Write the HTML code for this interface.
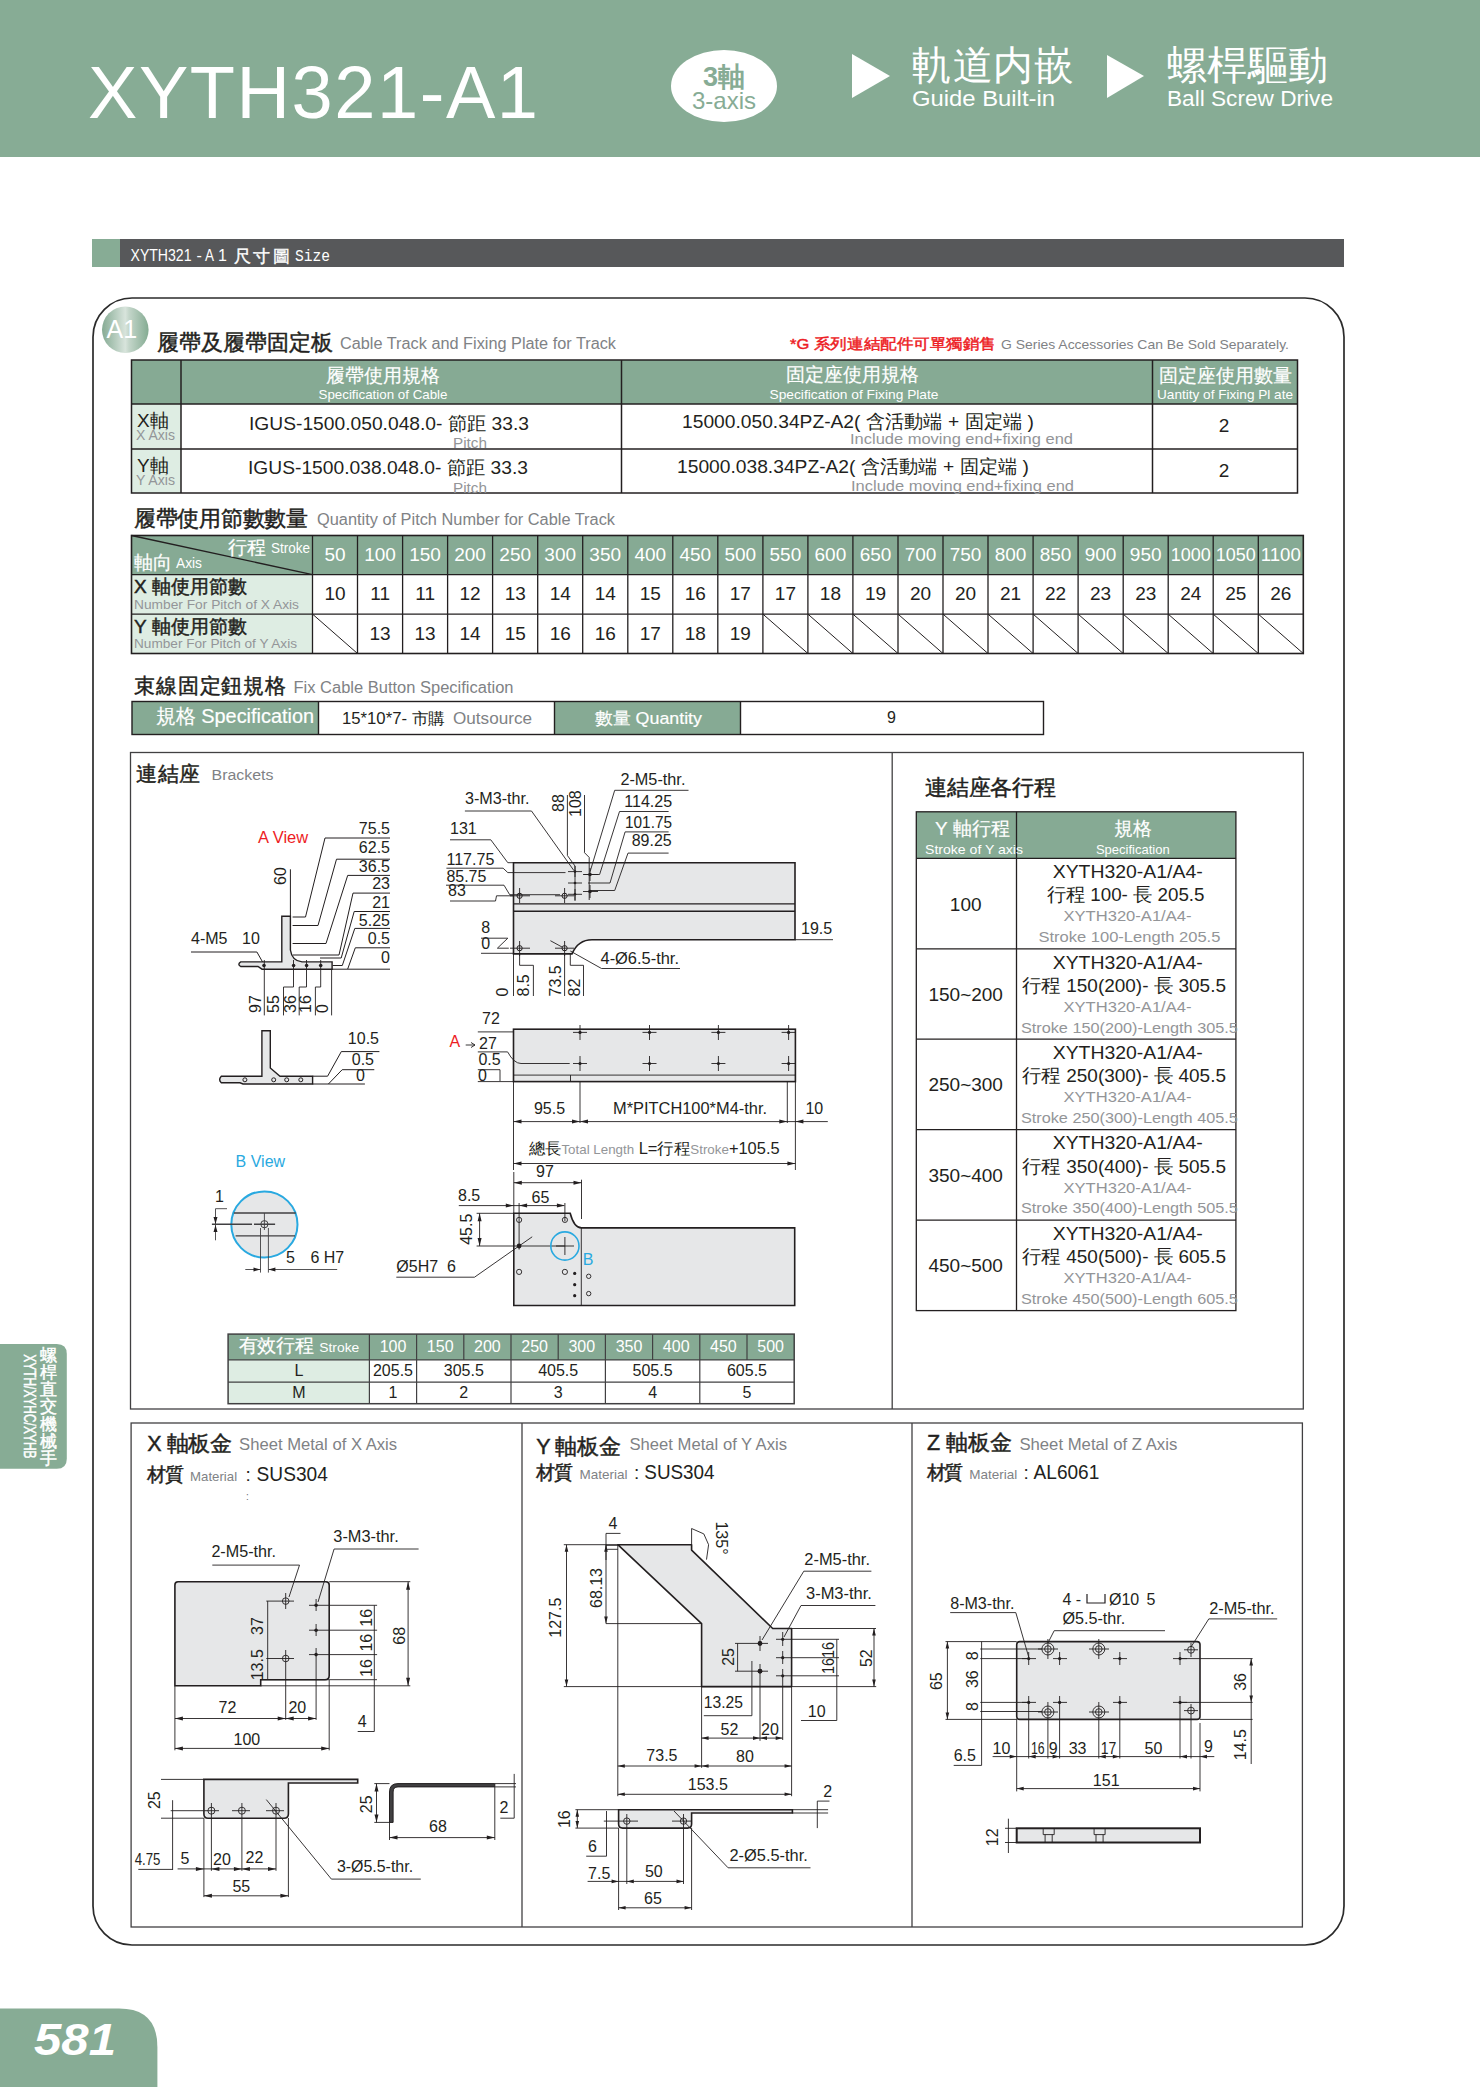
<!DOCTYPE html>
<html><head><meta charset="utf-8">
<style>
html,body{margin:0;padding:0;background:#fff;}
body{width:1480px;height:2087px;position:relative;overflow:hidden;font-family:"Liberation Sans",sans-serif;}
svg{position:absolute;left:0;top:0;}
text{font-family:"Liberation Sans",sans-serif;}
</style></head><body>
<svg width="1480" height="2087" viewBox="0 0 1480 2087">
<defs>
<linearGradient id="a1g" x1="0" y1="0" x2="1" y2="0">
<stop offset="0" stop-color="#86ab94"/><stop offset="0.5" stop-color="#d8e4dc"/><stop offset="0.58" stop-color="#c4d6ca"/><stop offset="1" stop-color="#84ab92"/>
</linearGradient>
</defs>
<!-- header -->
<rect x="0" y="0" width="1480" height="157" fill="#87ac95"/>
<text x="88" y="118" font-size="74" fill="#fff" textLength="450" lengthAdjust="spacing">XYTH321-A1</text>
<ellipse cx="724" cy="86" rx="53" ry="36" fill="#fff"/>
<text x="724" y="86" font-size="27" font-weight="bold" fill="#87ac95" text-anchor="middle">3軸</text>
<text x="724" y="109" font-size="24" fill="#87ac95" text-anchor="middle">3-axis</text>
<polygon points="852,54 890,76 852,98" fill="#fff"/>
<text x="912" y="78.5" font-size="40" fill="#fff" textLength="162">軌道内嵌</text>
<text x="912" y="106" font-size="22" fill="#fff" textLength="143" lengthAdjust="spacingAndGlyphs">Guide Built-in</text>
<polygon points="1107,55 1144,76 1107,98" fill="#fff"/>
<text x="1167" y="78.5" font-size="40" fill="#fff" textLength="161">螺桿驅動</text>
<text x="1167" y="106" font-size="22" fill="#fff" textLength="166" lengthAdjust="spacingAndGlyphs">Ball Screw Drive</text>
<!-- section bar -->
<rect x="92" y="239" width="28" height="28" fill="#87ac95"/>
<rect x="120" y="239" width="1224" height="28" fill="#57585a"/>
<g fill="#fff" font-size="16" style="font-family:'Liberation Mono',monospace"><text x="130.5" y="261" textLength="61" lengthAdjust="spacingAndGlyphs">XYTH321</text><text x="196.5" y="261">-</text><text x="205" y="261" textLength="9" lengthAdjust="spacingAndGlyphs">A</text><text x="218" y="261">1</text></g><text x="233.5" y="262" font-size="17" fill="#fff" stroke="#fff" stroke-width="0.4" textLength="56">尺寸圖</text><text x="295" y="261" font-size="16" fill="#fff" style="font-family:'Liberation Mono',monospace" textLength="35" lengthAdjust="spacingAndGlyphs">Size</text>
<!-- frame -->
<rect x="93" y="298" width="1251" height="1647" rx="39" ry="39" fill="none" stroke="#2b2b2b" stroke-width="1.7"/>
<circle cx="125.3" cy="329.8" r="23.3" fill="url(#a1g)"/>
<text x="121.9" y="337.7" font-size="25" fill="#fff" text-anchor="middle">A1</text>
<!-- table1 -->
<text x="157" y="350" font-size="22" fill="#231f20" textLength="176" stroke="#231f20" stroke-width="0.45">履帶及履帶固定板</text>
<text x="340" y="349" font-size="16" fill="#808285" textLength="276" lengthAdjust="spacingAndGlyphs">Cable Track and Fixing Plate for Track</text>
<text x="790" y="349" font-size="15" fill="#ed1c24" stroke="#ed1c24" stroke-width="0.45" textLength="206" lengthAdjust="spacingAndGlyphs">*G 系列連結配件可單獨銷售</text>
<text x="1001" y="349" font-size="13.5" fill="#808285" textLength="288" lengthAdjust="spacingAndGlyphs">G Series Accessories Can Be Sold Separately.</text>
<rect x="131" y="360" width="1167" height="44" fill="#86aa94"/>
<rect x="131" y="404" width="50" height="89" fill="#deede3"/>
<g stroke="#231f20" stroke-width="1.5" fill="none">
<rect x="131.5" y="360" width="1166" height="133"/>
<line x1="131" y1="404" x2="1298" y2="404"/>
<line x1="131" y1="449" x2="1298" y2="449"/>
<line x1="181" y1="360" x2="181" y2="493"/>
<line x1="621.5" y1="360" x2="621.5" y2="493"/>
<line x1="1152.5" y1="360" x2="1152.5" y2="493"/>
</g>
<text x="383" y="382" font-size="19" fill="#fff" text-anchor="middle" stroke="#fff" stroke-width="0.2">履帶使用規格</text>
<text x="383" y="399" font-size="13.5" fill="#fff" text-anchor="middle" textLength="129" lengthAdjust="spacingAndGlyphs">Specification of Cable</text>
<text x="852" y="381" font-size="19" fill="#fff" text-anchor="middle" stroke="#fff" stroke-width="0.2">固定座使用規格</text>
<text x="854" y="399" font-size="13.5" fill="#fff" text-anchor="middle" textLength="169" lengthAdjust="spacingAndGlyphs">Specification of Fixing Plate</text>
<text x="1225" y="382" font-size="19" fill="#fff" text-anchor="middle" stroke="#fff" stroke-width="0.2">固定座使用數量</text>
<text x="1225" y="399" font-size="13.5" fill="#fff" text-anchor="middle" textLength="136" lengthAdjust="spacingAndGlyphs">Uantity of Fixing Pl ate</text>
<text x="137" y="427" font-size="19" fill="#231f20">X軸</text>
<text x="136" y="440" font-size="14.5" fill="#939598" textLength="39" lengthAdjust="spacingAndGlyphs">X Axis</text>
<text x="137" y="472" font-size="19" fill="#231f20">Y軸</text>
<text x="136" y="485" font-size="14.5" fill="#939598" textLength="39" lengthAdjust="spacingAndGlyphs">Y Axis</text>
<text x="249" y="430" font-size="19" fill="#231f20" textLength="280" lengthAdjust="spacingAndGlyphs">IGUS-1500.050.048.0- 節距 33.3</text>
<text x="453" y="448" font-size="15.5" fill="#939598" textLength="34" lengthAdjust="spacingAndGlyphs">Pitch</text>
<text x="248" y="473.5" font-size="19" fill="#231f20" textLength="280" lengthAdjust="spacingAndGlyphs">IGUS-1500.038.048.0- 節距 33.3</text>
<text x="453" y="493" font-size="15.5" fill="#939598" textLength="34" lengthAdjust="spacingAndGlyphs">Pitch</text>
<text x="682" y="428" font-size="19" fill="#231f20" textLength="352" lengthAdjust="spacingAndGlyphs">15000.050.34PZ-A2( 含活動端 + 固定端 )</text>
<text x="850" y="444" font-size="15" fill="#939598" textLength="223" lengthAdjust="spacingAndGlyphs">Include moving end+fixing end</text>
<text x="677" y="472.5" font-size="19" fill="#231f20" textLength="352" lengthAdjust="spacingAndGlyphs">15000.038.34PZ-A2( 含活動端 + 固定端 )</text>
<text x="851" y="490.5" font-size="15" fill="#939598" textLength="223" lengthAdjust="spacingAndGlyphs">Include moving end+fixing end</text>
<text x="1224" y="432" font-size="19" fill="#231f20" text-anchor="middle">2</text>
<text x="1224" y="477" font-size="19" fill="#231f20" text-anchor="middle">2</text>
<!-- table2 -->
<text x="134" y="526" font-size="22" fill="#231f20" textLength="174" stroke="#231f20" stroke-width="0.45">履帶使用節數數量</text>
<text x="317" y="524.5" font-size="16" fill="#808285" textLength="298" lengthAdjust="spacingAndGlyphs">Quantity of Pitch Number for Cable Track</text>
<rect x="131.5" y="535.5" width="1171.8" height="39.10000000000002" fill="#86aa94"/>
<rect x="131.5" y="574.6" width="181.0" height="78.89999999999998" fill="#deede3"/>
<g stroke="#231f20" stroke-width="1.3" fill="none">
<rect x="131.5" y="535.5" width="1171.8" height="118.0" stroke-width="1.6"/>
<line x1="131.5" y1="574.6" x2="1303.3" y2="574.6"/>
<line x1="131.5" y1="614.1" x2="1303.3" y2="614.1"/>
<line x1="131.5" y1="535.5" x2="312.5" y2="574.6"/>
<line x1="312.5" y1="535.5" x2="312.5" y2="653.5"/>
<line x1="357.5" y1="535.5" x2="357.5" y2="653.5"/>
<line x1="402.6" y1="535.5" x2="402.6" y2="653.5"/>
<line x1="447.6" y1="535.5" x2="447.6" y2="653.5"/>
<line x1="492.6" y1="535.5" x2="492.6" y2="653.5"/>
<line x1="537.7" y1="535.5" x2="537.7" y2="653.5"/>
<line x1="582.7" y1="535.5" x2="582.7" y2="653.5"/>
<line x1="627.8" y1="535.5" x2="627.8" y2="653.5"/>
<line x1="672.8" y1="535.5" x2="672.8" y2="653.5"/>
<line x1="717.8" y1="535.5" x2="717.8" y2="653.5"/>
<line x1="762.9" y1="535.5" x2="762.9" y2="653.5"/>
<line x1="807.9" y1="535.5" x2="807.9" y2="653.5"/>
<line x1="852.9" y1="535.5" x2="852.9" y2="653.5"/>
<line x1="898.0" y1="535.5" x2="898.0" y2="653.5"/>
<line x1="943.0" y1="535.5" x2="943.0" y2="653.5"/>
<line x1="988.0" y1="535.5" x2="988.0" y2="653.5"/>
<line x1="1033.1" y1="535.5" x2="1033.1" y2="653.5"/>
<line x1="1078.1" y1="535.5" x2="1078.1" y2="653.5"/>
<line x1="1123.2" y1="535.5" x2="1123.2" y2="653.5"/>
<line x1="1168.2" y1="535.5" x2="1168.2" y2="653.5"/>
<line x1="1213.2" y1="535.5" x2="1213.2" y2="653.5"/>
<line x1="1258.3" y1="535.5" x2="1258.3" y2="653.5"/>
<line x1="312.5" y1="614.1" x2="357.5" y2="653.5" stroke-width="1"/>
<line x1="762.9" y1="614.1" x2="807.9" y2="653.5" stroke-width="1"/>
<line x1="807.9" y1="614.1" x2="852.9" y2="653.5" stroke-width="1"/>
<line x1="852.9" y1="614.1" x2="898.0" y2="653.5" stroke-width="1"/>
<line x1="898.0" y1="614.1" x2="943.0" y2="653.5" stroke-width="1"/>
<line x1="943.0" y1="614.1" x2="988.0" y2="653.5" stroke-width="1"/>
<line x1="988.0" y1="614.1" x2="1033.1" y2="653.5" stroke-width="1"/>
<line x1="1033.1" y1="614.1" x2="1078.1" y2="653.5" stroke-width="1"/>
<line x1="1078.1" y1="614.1" x2="1123.2" y2="653.5" stroke-width="1"/>
<line x1="1123.2" y1="614.1" x2="1168.2" y2="653.5" stroke-width="1"/>
<line x1="1168.2" y1="614.1" x2="1213.2" y2="653.5" stroke-width="1"/>
<line x1="1213.2" y1="614.1" x2="1258.3" y2="653.5" stroke-width="1"/>
<line x1="1258.3" y1="614.1" x2="1303.3" y2="653.5" stroke-width="1"/>
</g>
<text x="228.4" y="554" font-size="19" fill="#fff" stroke="#fff" stroke-width="0.2">行程</text><text x="310" y="553" font-size="14" fill="#fff" text-anchor="end" textLength="39" lengthAdjust="spacingAndGlyphs">Stroke</text>
<text x="134" y="569" font-size="19" fill="#fff" stroke="#fff" stroke-width="0.2">軸向</text><text x="176" y="568" font-size="14.5" fill="#fff" textLength="26" lengthAdjust="spacingAndGlyphs">Axis</text>
<text x="335.0" y="561" font-size="19" fill="#fff" text-anchor="middle">50</text>
<text x="335.0" y="600" font-size="19" fill="#231f20" text-anchor="middle">10</text>
<text x="380.1" y="561" font-size="19" fill="#fff" text-anchor="middle">100</text>
<text x="380.1" y="600" font-size="19" fill="#231f20" text-anchor="middle">11</text>
<text x="380.1" y="639.5" font-size="19" fill="#231f20" text-anchor="middle">13</text>
<text x="425.1" y="561" font-size="19" fill="#fff" text-anchor="middle">150</text>
<text x="425.1" y="600" font-size="19" fill="#231f20" text-anchor="middle">11</text>
<text x="425.1" y="639.5" font-size="19" fill="#231f20" text-anchor="middle">13</text>
<text x="470.1" y="561" font-size="19" fill="#fff" text-anchor="middle">200</text>
<text x="470.1" y="600" font-size="19" fill="#231f20" text-anchor="middle">12</text>
<text x="470.1" y="639.5" font-size="19" fill="#231f20" text-anchor="middle">14</text>
<text x="515.2" y="561" font-size="19" fill="#fff" text-anchor="middle">250</text>
<text x="515.2" y="600" font-size="19" fill="#231f20" text-anchor="middle">13</text>
<text x="515.2" y="639.5" font-size="19" fill="#231f20" text-anchor="middle">15</text>
<text x="560.2" y="561" font-size="19" fill="#fff" text-anchor="middle">300</text>
<text x="560.2" y="600" font-size="19" fill="#231f20" text-anchor="middle">14</text>
<text x="560.2" y="639.5" font-size="19" fill="#231f20" text-anchor="middle">16</text>
<text x="605.2" y="561" font-size="19" fill="#fff" text-anchor="middle">350</text>
<text x="605.2" y="600" font-size="19" fill="#231f20" text-anchor="middle">14</text>
<text x="605.2" y="639.5" font-size="19" fill="#231f20" text-anchor="middle">16</text>
<text x="650.3" y="561" font-size="19" fill="#fff" text-anchor="middle">400</text>
<text x="650.3" y="600" font-size="19" fill="#231f20" text-anchor="middle">15</text>
<text x="650.3" y="639.5" font-size="19" fill="#231f20" text-anchor="middle">17</text>
<text x="695.3" y="561" font-size="19" fill="#fff" text-anchor="middle">450</text>
<text x="695.3" y="600" font-size="19" fill="#231f20" text-anchor="middle">16</text>
<text x="695.3" y="639.5" font-size="19" fill="#231f20" text-anchor="middle">18</text>
<text x="740.3" y="561" font-size="19" fill="#fff" text-anchor="middle">500</text>
<text x="740.3" y="600" font-size="19" fill="#231f20" text-anchor="middle">17</text>
<text x="740.3" y="639.5" font-size="19" fill="#231f20" text-anchor="middle">19</text>
<text x="785.4" y="561" font-size="19" fill="#fff" text-anchor="middle">550</text>
<text x="785.4" y="600" font-size="19" fill="#231f20" text-anchor="middle">17</text>
<text x="830.4" y="561" font-size="19" fill="#fff" text-anchor="middle">600</text>
<text x="830.4" y="600" font-size="19" fill="#231f20" text-anchor="middle">18</text>
<text x="875.5" y="561" font-size="19" fill="#fff" text-anchor="middle">650</text>
<text x="875.5" y="600" font-size="19" fill="#231f20" text-anchor="middle">19</text>
<text x="920.5" y="561" font-size="19" fill="#fff" text-anchor="middle">700</text>
<text x="920.5" y="600" font-size="19" fill="#231f20" text-anchor="middle">20</text>
<text x="965.5" y="561" font-size="19" fill="#fff" text-anchor="middle">750</text>
<text x="965.5" y="600" font-size="19" fill="#231f20" text-anchor="middle">20</text>
<text x="1010.6" y="561" font-size="19" fill="#fff" text-anchor="middle">800</text>
<text x="1010.6" y="600" font-size="19" fill="#231f20" text-anchor="middle">21</text>
<text x="1055.6" y="561" font-size="19" fill="#fff" text-anchor="middle">850</text>
<text x="1055.6" y="600" font-size="19" fill="#231f20" text-anchor="middle">22</text>
<text x="1100.6" y="561" font-size="19" fill="#fff" text-anchor="middle">900</text>
<text x="1100.6" y="600" font-size="19" fill="#231f20" text-anchor="middle">23</text>
<text x="1145.7" y="561" font-size="19" fill="#fff" text-anchor="middle">950</text>
<text x="1145.7" y="600" font-size="19" fill="#231f20" text-anchor="middle">23</text>
<text x="1190.7" y="561" font-size="19" fill="#fff" text-anchor="middle" textLength="40" lengthAdjust="spacingAndGlyphs">1000</text>
<text x="1190.7" y="600" font-size="19" fill="#231f20" text-anchor="middle">24</text>
<text x="1235.7" y="561" font-size="19" fill="#fff" text-anchor="middle" textLength="40" lengthAdjust="spacingAndGlyphs">1050</text>
<text x="1235.7" y="600" font-size="19" fill="#231f20" text-anchor="middle">25</text>
<text x="1280.8" y="561" font-size="19" fill="#fff" text-anchor="middle" textLength="40" lengthAdjust="spacingAndGlyphs">1100</text>
<text x="1280.8" y="600" font-size="19" fill="#231f20" text-anchor="middle">26</text>
<text x="134" y="593" font-size="19" fill="#231f20" stroke="#231f20" stroke-width="0.45">X 軸使用節數</text>
<text x="134" y="608.5" font-size="13" fill="#939598" textLength="165" lengthAdjust="spacingAndGlyphs">Number For Pitch of X Axis</text>
<text x="134" y="633" font-size="19" fill="#231f20" stroke="#231f20" stroke-width="0.45">Y 軸使用節數</text>
<text x="134" y="648" font-size="13" fill="#939598" textLength="163" lengthAdjust="spacingAndGlyphs">Number For Pitch of Y Axis</text>
<!-- table3 -->
<text x="134" y="693" font-size="21" fill="#231f20" stroke="#231f20" stroke-width="0.45" textLength="152">束線固定鈕規格</text>
<text x="293.5" y="692.5" font-size="16" fill="#808285" textLength="220" lengthAdjust="spacingAndGlyphs">Fix Cable Button Specification</text>
<rect x="132" y="701.5" width="186.5" height="33" fill="#86aa94"/>
<rect x="554.5" y="701.5" width="186" height="33" fill="#86aa94"/>
<g stroke="#231f20" stroke-width="1.4" fill="none"><rect x="132" y="701.5" width="911.5" height="33"/><line x1="318.5" y1="701.5" x2="318.5" y2="734.5"/><line x1="554.5" y1="701.5" x2="554.5" y2="734.5"/><line x1="740.5" y1="701.5" x2="740.5" y2="734.5"/></g>
<text x="156" y="723" font-size="20" fill="#fff" textLength="158" lengthAdjust="spacingAndGlyphs" stroke="#fff" stroke-width="0.2">規格 Specification</text>
<text x="342" y="724" font-size="16" fill="#231f20" textLength="103" lengthAdjust="spacingAndGlyphs">15*10*7- 市購</text>
<text x="453" y="724" font-size="17" fill="#808285" textLength="79" lengthAdjust="spacingAndGlyphs">Outsource</text>
<text x="595" y="724" font-size="17" fill="#fff" textLength="107" lengthAdjust="spacingAndGlyphs" stroke="#fff" stroke-width="0.2">數量 Quantity</text>
<text x="891.5" y="723" font-size="16" fill="#231f20" text-anchor="middle">9</text>
<!-- brackets box -->
<g stroke="#414042" stroke-width="1.3" fill="none"><rect x="130.5" y="752.5" width="1172.8" height="656.5"/><line x1="892.2" y1="752.5" x2="892.2" y2="1409"/></g>
<text x="136" y="781" font-size="21" fill="#231f20" textLength="64" stroke="#231f20" stroke-width="0.45">連結座</text>
<text x="211.5" y="779.5" font-size="15.5" fill="#808285" textLength="62" lengthAdjust="spacingAndGlyphs">Brackets</text>
<text x="925" y="795" font-size="21.5" fill="#231f20" textLength="131" stroke="#231f20" stroke-width="0.45">連結座各行程</text>
<rect x="916.3" y="811.8" width="319.60000000000014" height="46.5" fill="#86aa94"/>
<g stroke="#231f20" stroke-width="1.3" fill="none">
<rect x="916.3" y="811.8" width="319.60000000000014" height="498.8"/>
<line x1="1016.5" y1="811.8" x2="1016.5" y2="1310.5"/>
<line x1="916.3" y1="858.3" x2="1235.9" y2="858.3"/>
<line x1="916.3" y1="948.8" x2="1235.9" y2="948.8"/>
<line x1="916.3" y1="1039.2" x2="1235.9" y2="1039.2"/>
<line x1="916.3" y1="1129.7" x2="1235.9" y2="1129.7"/>
<line x1="916.3" y1="1220.1" x2="1235.9" y2="1220.1"/>
</g>
<text x="972.4" y="835" font-size="19" fill="#fff" text-anchor="middle" stroke="#fff" stroke-width="0.2">Y 軸行程</text>
<text x="925" y="854" font-size="13" fill="#fff" textLength="98" lengthAdjust="spacingAndGlyphs">Stroke of Y axis</text>
<text x="1132.5" y="835" font-size="19" fill="#fff" text-anchor="middle" stroke="#fff" stroke-width="0.2">規格</text>
<text x="1132.8" y="854" font-size="13" fill="#fff" text-anchor="middle">Specification</text>
<text x="965.7" y="910.5" font-size="19" fill="#231f20" text-anchor="middle">100</text>
<text x="1127.7" y="878.0" font-size="18.5" fill="#231f20" text-anchor="middle" textLength="150" lengthAdjust="spacingAndGlyphs">XYTH320-A1/A4-</text>
<text x="1125.5" y="901.1" font-size="18.5" fill="#231f20" text-anchor="middle" textLength="158" lengthAdjust="spacingAndGlyphs">行程 100- 長 205.5</text>
<text x="1127.5" y="921.4" font-size="15" fill="#939598" text-anchor="middle" textLength="128" lengthAdjust="spacingAndGlyphs">XYTH320-A1/A4-</text>
<text x="1129.4" y="942.0" font-size="15" fill="#939598" text-anchor="middle" textLength="182" lengthAdjust="spacingAndGlyphs">Stroke 100-Length 205.5</text>
<text x="965.7" y="1001.0" font-size="19" fill="#231f20" text-anchor="middle">150~200</text>
<text x="1127.7" y="968.5" font-size="18.5" fill="#231f20" text-anchor="middle" textLength="150" lengthAdjust="spacingAndGlyphs">XYTH320-A1/A4-</text>
<text x="1124.0" y="991.5" font-size="18.5" fill="#231f20" text-anchor="middle" textLength="204" lengthAdjust="spacingAndGlyphs">行程 150(200)- 長 305.5</text>
<text x="1127.5" y="1011.9" font-size="15" fill="#939598" text-anchor="middle" textLength="128" lengthAdjust="spacingAndGlyphs">XYTH320-A1/A4-</text>
<text x="1129.4" y="1032.5" font-size="15" fill="#939598" text-anchor="middle" textLength="217" lengthAdjust="spacingAndGlyphs">Stroke 150(200)-Length 305.5</text>
<text x="965.7" y="1091.4" font-size="19" fill="#231f20" text-anchor="middle">250~300</text>
<text x="1127.7" y="1058.9" font-size="18.5" fill="#231f20" text-anchor="middle" textLength="150" lengthAdjust="spacingAndGlyphs">XYTH320-A1/A4-</text>
<text x="1124.0" y="1082.0" font-size="18.5" fill="#231f20" text-anchor="middle" textLength="204" lengthAdjust="spacingAndGlyphs">行程 250(300)- 長 405.5</text>
<text x="1127.5" y="1102.3" font-size="15" fill="#939598" text-anchor="middle" textLength="128" lengthAdjust="spacingAndGlyphs">XYTH320-A1/A4-</text>
<text x="1129.4" y="1122.9" font-size="15" fill="#939598" text-anchor="middle" textLength="217" lengthAdjust="spacingAndGlyphs">Stroke 250(300)-Length 405.5</text>
<text x="965.7" y="1181.9" font-size="19" fill="#231f20" text-anchor="middle">350~400</text>
<text x="1127.7" y="1149.4" font-size="18.5" fill="#231f20" text-anchor="middle" textLength="150" lengthAdjust="spacingAndGlyphs">XYTH320-A1/A4-</text>
<text x="1124.0" y="1172.5" font-size="18.5" fill="#231f20" text-anchor="middle" textLength="204" lengthAdjust="spacingAndGlyphs">行程 350(400)- 長 505.5</text>
<text x="1127.5" y="1192.8" font-size="15" fill="#939598" text-anchor="middle" textLength="128" lengthAdjust="spacingAndGlyphs">XYTH320-A1/A4-</text>
<text x="1129.4" y="1213.4" font-size="15" fill="#939598" text-anchor="middle" textLength="217" lengthAdjust="spacingAndGlyphs">Stroke 350(400)-Length 505.5</text>
<text x="965.7" y="1272.3" font-size="19" fill="#231f20" text-anchor="middle">450~500</text>
<text x="1127.7" y="1239.8" font-size="18.5" fill="#231f20" text-anchor="middle" textLength="150" lengthAdjust="spacingAndGlyphs">XYTH320-A1/A4-</text>
<text x="1124.0" y="1262.9" font-size="18.5" fill="#231f20" text-anchor="middle" textLength="204" lengthAdjust="spacingAndGlyphs">行程 450(500)- 長 605.5</text>
<text x="1127.5" y="1283.2" font-size="15" fill="#939598" text-anchor="middle" textLength="128" lengthAdjust="spacingAndGlyphs">XYTH320-A1/A4-</text>
<text x="1129.4" y="1303.8" font-size="15" fill="#939598" text-anchor="middle" textLength="217" lengthAdjust="spacingAndGlyphs">Stroke 450(500)-Length 605.5</text>
<rect x="228.1" y="1334.1" width="566.1" height="25.8" fill="#86aa94"/>
<rect x="228.1" y="1359.9" width="141.3" height="43.8" fill="#deede3"/>
<g stroke="#414042" stroke-width="1.2" fill="none">
<rect x="228.1" y="1334.1" width="566.1" height="69.6" stroke-width="1.5"/>
<line x1="228.1" y1="1359.9" x2="794.2" y2="1359.9"/><line x1="228.1" y1="1382.2" x2="794.2" y2="1382.2"/>
<line x1="369.4" y1="1334.1" x2="369.4" y2="1403.7"/>
<line x1="416.6" y1="1334.1" x2="416.6" y2="1403.7"/>
<line x1="463.8" y1="1334.1" x2="463.8" y2="1359.9"/>
<line x1="511.0" y1="1334.1" x2="511.0" y2="1403.7"/>
<line x1="558.2" y1="1334.1" x2="558.2" y2="1359.9"/>
<line x1="605.4" y1="1334.1" x2="605.4" y2="1403.7"/>
<line x1="652.6" y1="1334.1" x2="652.6" y2="1359.9"/>
<line x1="699.8" y1="1334.1" x2="699.8" y2="1403.7"/>
<line x1="747.0" y1="1334.1" x2="747.0" y2="1359.9"/>
</g>
<text x="238.6" y="1352.4" font-size="19" fill="#fff" textLength="75" stroke="#fff" stroke-width="0.2">有效行程</text>
<text x="319.3" y="1352.4" font-size="13" fill="#fff" textLength="40" lengthAdjust="spacingAndGlyphs">Stroke</text>
<text x="393.0" y="1352.4" font-size="16" fill="#fff" text-anchor="middle">100</text>
<text x="440.2" y="1352.4" font-size="16" fill="#fff" text-anchor="middle">150</text>
<text x="487.4" y="1352.4" font-size="16" fill="#fff" text-anchor="middle">200</text>
<text x="534.6" y="1352.4" font-size="16" fill="#fff" text-anchor="middle">250</text>
<text x="581.8" y="1352.4" font-size="16" fill="#fff" text-anchor="middle">300</text>
<text x="629.0" y="1352.4" font-size="16" fill="#fff" text-anchor="middle">350</text>
<text x="676.2" y="1352.4" font-size="16" fill="#fff" text-anchor="middle">400</text>
<text x="723.4" y="1352.4" font-size="16" fill="#fff" text-anchor="middle">450</text>
<text x="770.6" y="1352.4" font-size="16" fill="#fff" text-anchor="middle">500</text>
<text x="299" y="1375.7" font-size="16" fill="#231f20" text-anchor="middle">L</text>
<text x="299" y="1397.6" font-size="16" fill="#231f20" text-anchor="middle">M</text>
<text x="393.0" y="1375.7" font-size="16" fill="#231f20" text-anchor="middle">205.5</text>
<text x="393.0" y="1397.6" font-size="16" fill="#231f20" text-anchor="middle">1</text>
<text x="463.8" y="1375.7" font-size="16" fill="#231f20" text-anchor="middle">305.5</text>
<text x="463.8" y="1397.6" font-size="16" fill="#231f20" text-anchor="middle">2</text>
<text x="558.2" y="1375.7" font-size="16" fill="#231f20" text-anchor="middle">405.5</text>
<text x="558.2" y="1397.6" font-size="16" fill="#231f20" text-anchor="middle">3</text>
<text x="652.6" y="1375.7" font-size="16" fill="#231f20" text-anchor="middle">505.5</text>
<text x="652.6" y="1397.6" font-size="16" fill="#231f20" text-anchor="middle">4</text>
<text x="747.0" y="1375.7" font-size="16" fill="#231f20" text-anchor="middle">605.5</text>
<text x="747.0" y="1397.6" font-size="16" fill="#231f20" text-anchor="middle">5</text>
<!-- bracket drawings -->
<g fill="#231f20" font-size="16">
<text x="258" y="842.7" fill="#ed1c24" font-size="16.5">A View</text>
<g text-anchor="end">
<text x="390" y="833.6">75.5</text><text x="390" y="852.5">62.5</text><text x="390" y="872">36.5</text><text x="390" y="889.4">23</text>
<text x="390" y="907.6">21</text><text x="390" y="925.5">5.25</text><text x="390" y="943.5">0.5</text><text x="390" y="963.4">0</text>
</g>
<text x="191" y="944">4-M5</text><text x="242" y="944">10</text>
<text transform="translate(286,876) rotate(-90)" text-anchor="middle">60</text>
<g transform="rotate(-90)" text-anchor="start">
<text x="-1013" y="261">97</text><text x="-1013" y="278.5">55</text><text x="-1013" y="295.5">36</text><text x="-1013" y="311">16</text><text x="-1013" y="328">0</text>
</g>
<g text-anchor="end"><text x="379" y="1043.5">10.5</text><text x="374" y="1065">0.5</text><text x="365" y="1081">0</text></g>
</g>
<g stroke="#231f20" stroke-width="1" fill="none">
<path d="M325,838 H390 M325,838 L305.5,917 H292.6"/>
<path d="M336.5,859.2 H390 M336.5,859.2 L318,925.5 H292.6"/>
<path d="M347.7,875.4 H390 M347.7,875.4 L326,943.5 H292.6"/>
<path d="M353,893.1 H390 M353,893.1 L339,955 H292.6"/>
<path d="M354.2,911.5 H390 M354.2,911.5 L341.2,958 H320"/>
<path d="M354.8,928.4 H390 M354.8,928.4 L342.3,965.5 H332.6"/>
<path d="M355.3,947.8 H390 M355.3,947.8 L347.7,969 "/>
<path d="M332,969.2 H390"/>
<path d="M290.4,869.3 V916"/>
<path d="M191,952 H256.9 L263.4,963.4"/>
</g>
<path d="M240.7,961.9 Q237,964.2 240.7,966.5 H258 L262,969.2 H332.1 V961.9 H302 Q292,961 290.4,950 V916.2 H281.8 V961.9 Z" fill="#e6e7e8" stroke="#231f20" stroke-width="1.4"/>
<g fill="#231f20"><circle cx="264" cy="965.5" r="1.8"/><circle cx="293.6" cy="965.5" r="1.8"/><circle cx="306.6" cy="965.5" r="1.8"/><circle cx="320.7" cy="965.5" r="1.8"/></g>
<g stroke="#231f20" stroke-width="0.9" fill="none">
<path d="M264.3,960 V1015.4"/>
<path d="M293.5,960 V987 H283.5 V1015.4"/>
<path d="M306.5,960 V987 H299.2 V1015.4"/>
<path d="M320.7,960 V987 H315.4 V1015.4"/>
<path d="M331.6,969 V1015.4"/>
</g>
<!-- bracket 2 -->
<path d="M221.3,1076.2 Q218,1079.5 221.3,1082.8 H240 L243,1084 H312.6 V1076.2 H280 L270.3,1068 V1030.8 H261.9 V1076.2 Z" fill="#e6e7e8" stroke="#231f20" stroke-width="1.4"/>
<g fill="none" stroke="#231f20" stroke-width="1"><circle cx="244.9" cy="1079.8" r="2"/><circle cx="273.7" cy="1079.8" r="2"/><circle cx="286.7" cy="1079.8" r="2"/><circle cx="300.8" cy="1079.8" r="2"/>
<path d="M341.3,1051.6 H379.4 M341.3,1051.6 L327.6,1076.2 H312.6"/>
<path d="M342.2,1069.7 H374.3 M342.2,1069.7 L328.4,1084"/>
<path d="M312.6,1084 H364.9"/></g>
<!-- front view -->
<path d="M513.5,862.7 H795 V939.7 H592 Q578,939.7 572,953.9 H513.5 Z" fill="#e6e7e8" stroke="#231f20" stroke-width="1.6"/>
<g stroke="#231f20" fill="none">
<line x1="513.5" y1="903.8" x2="795" y2="903.8" stroke-width="1.2"/>
<line x1="513.5" y1="911.3" x2="795" y2="911.3" stroke-width="1.6"/>
</g>
<g stroke="#231f20" stroke-width="0.9" fill="none">
<path d="M450,839.8 H490.8 L507.8,862.7 H513.5"/>
<path d="M446.4,868.2 H503.1 L507.8,872.6 H565.5"/>
<path d="M446,885.2 H504 L509.7,894.7 H560"/>
<path d="M450,901 H495.5 L496.5,895.8 H513"/>
<path d="M464.9,811 H531.5 L574,870.7"/>
<path d="M567.4,795 V855.5 L575,866 V901"/>
<path d="M584.5,795 V852.7 L589.2,857.4 V900"/>
<path d="M688.5,790.3 H614.7 L590.1,871.6"/>
<path d="M668.6,811.5 H619.5 L599.6,874.5 H584"/>
<path d="M668.6,831.9 H625.1 L610,883 H588"/>
<path d="M668.6,853.1 H628 L614.7,890.5 H590"/>
<path d="M481,938.2 H507.8 L497.4,948.2 H508.8"/>
<path d="M481,953.3 H513.5"/>
<path d="M680,968.5 H601.5 L570.3,951"/>
<path d="M550.4,940.7 L562,947"/>
<path d="M513.5,954 V996"/>
<path d="M519.6,954 V965.3 H533.4 V996"/>
<path d="M564.6,954 V996"/>
<path d="M570.3,954 V965.3 H583.5 V996"/>
<path d="M510,895.8 H530 M519.6,888 V903 M555,895.8 H574 M564.6,888 V903"/>
<path d="M510,948.2 H530 M519.6,941 V956 M555,948.2 H574 M564.6,941 V956"/>
<path d="M568,871.6 H582 M575,866 V877 M568,883 H582 M568,894.3 H582 M575,889 V900"/>
<path d="M583,874.5 H598 M590,868 V881 M583,891.5 H598 M590,885 V898"/>
</g>
<g fill="none" stroke="#231f20" stroke-width="1"><circle cx="519.6" cy="895.8" r="2.6"/><circle cx="564.6" cy="895.8" r="2.6"/><circle cx="519.6" cy="948.2" r="2.6"/><circle cx="564.6" cy="948.2" r="2.6"/></g>
<g fill="#231f20"><circle cx="575" cy="871.6" r="1.3"/><circle cx="575" cy="883" r="1.3"/><circle cx="575" cy="894.3" r="1.3"/><circle cx="590" cy="874.5" r="1.8"/><circle cx="590" cy="891.5" r="1.8"/></g>
<g fill="#231f20" font-size="16">
<text x="450" y="834.2">131</text>
<text x="446.4" y="865" textLength="48" lengthAdjust="spacingAndGlyphs">117.75</text>
<text x="446.4" y="882" textLength="40" lengthAdjust="spacingAndGlyphs">85.75</text>
<text x="448" y="896.2">83</text>
<text x="465" y="804" textLength="64.5" lengthAdjust="spacingAndGlyphs">3-M3-thr.</text>
<text x="620.4" y="784.6" textLength="65" lengthAdjust="spacingAndGlyphs">2-M5-thr.</text>
<text x="624.2" y="807.3" textLength="48" lengthAdjust="spacingAndGlyphs">114.25</text>
<text x="625" y="828.1" textLength="47" lengthAdjust="spacingAndGlyphs">101.75</text>
<text x="631.7" y="846" textLength="40" lengthAdjust="spacingAndGlyphs">89.25</text>
<text x="481.3" y="933.1">8</text>
<text x="481.3" y="949.2">0</text>
<text x="600.5" y="964.3" textLength="78.5" lengthAdjust="spacingAndGlyphs">4-Ø6.5-thr.</text>
<text x="801" y="934">19.5</text>
<g transform="rotate(-90)">
<text x="-812" y="563.5">88</text>
<text x="-817" y="580.5">108</text>
<text x="-996.5" y="508">0</text>
<text x="-996.5" y="528.5">8.5</text>
<text x="-996.5" y="560.5">73.5</text>
<text x="-996.5" y="579.5">82</text>
</g>
</g>
<line x1="795" y1="939.7" x2="833" y2="939.7" stroke="#231f20" stroke-width="0.9"/>
<!-- top view -->
<rect x="513.5" y="1029.2" width="281.9" height="52.4" fill="#e6e7e8" stroke="#231f20" stroke-width="1.6"/>
<g stroke="#231f20" stroke-width="0.9" fill="none">
<path d="M513.5,1075.1 H795.4 M570.5,1075.1 V1081.6"/>
<path d="M573,1032.4 H587 M580,1025 V1040 M642.5,1032.4 H656.5 M649.5,1025 V1040 M711.4,1032.4 H725.4 M718.4,1025 V1040 M781.6,1032.4 H795.6 M788.6,1025 V1040"/>
<path d="M573,1063.5 H587 M580,1056 V1071 M642.5,1063.5 H656.5 M649.5,1056 V1071 M711.4,1063.5 H725.4 M718.4,1056 V1071 M781.6,1063.5 H795.6 M788.6,1056 V1071"/>
<path d="M477.8,1031.9 H513.5"/>
<path d="M477.8,1051.9 H507.6 Q514,1063.5 521,1063.5 H569.7"/>
<path d="M477.8,1069.7 H500 V1081.1"/>
<path d="M477.8,1081.6 H513.5"/>
<path d="M465.7,1045 H475 M471,1042.5 L475,1045 L471,1047.5"/>
<path d="M513.5,1081.6 V1170 M580,1081 V1123 M787.3,1081 V1123 M795.4,1081 V1170"/>
<path d="M513.5,1121.6 H827.8"/>
<path d="M513.5,1163.5 H795.4"/>
</g>
<g fill="#231f20">
<path d="M513.5,1121.6 l8,-2 v4 z M580,1121.6 l-8,-2 v4 z M580,1121.6 l8,-2 v4 z M787.3,1121.6 l-8,-2 v4 z M795.4,1121.6 l8,-2 v4 z"/>
<path d="M513.5,1163.5 l8,-2 v4 z M795.4,1163.5 l-8,-2 v4 z"/>
</g>
<g fill="#231f20" font-size="16">
<text x="482" y="1023.8">72</text>
<text x="449.5" y="1047.3" fill="#ed1c24">A</text>
<text x="479" y="1049.2">27</text>
<text x="478.4" y="1064.9">0.5</text>
<text x="478" y="1080.5">0</text>
<text x="549.5" y="1113.5" text-anchor="middle">95.5</text>
<text x="613" y="1113.5" textLength="154" lengthAdjust="spacingAndGlyphs">M*PITCH100*M4-thr.</text>
<text x="805.4" y="1113.5">10</text>
<text x="528.6" y="1154" textLength="251" lengthAdjust="spacingAndGlyphs">總長<tspan fill="#939598" font-size="13">Total Length</tspan> L=行程<tspan fill="#939598" font-size="13">Stroke</tspan>+105.5</text>
</g>
<g fill="#231f20"><circle cx="580" cy="1032.4" r="1.6"/><circle cx="580" cy="1063.5" r="1.6"/><circle cx="649.5" cy="1032.4" r="1.6"/><circle cx="649.5" cy="1063.5" r="1.6"/><circle cx="718.4" cy="1032.4" r="1.6"/><circle cx="718.4" cy="1063.5" r="1.6"/><circle cx="788.6" cy="1032.4" r="1.6"/><circle cx="788.6" cy="1063.5" r="1.6"/></g>
<!-- bottom side view -->
<path d="M513.8,1213.3 H570.2 Q574,1227.9 581.5,1227.9 H794.7 V1305.5 H513.8 Z" fill="#e6e7e8" stroke="#231f20" stroke-width="1.6"/>
<g stroke="#231f20" stroke-width="0.9" fill="none">
<path d="M581.3,1228 V1305.5"/>
<path d="M513.8,1172 V1213 M581.5,1179.7 V1219"/>
<path d="M513.8,1182.7 H581.5"/>
<path d="M458.8,1205.6 H564.3"/>
<path d="M519.1,1203 V1249.6 M564.9,1203 V1221.3"/>
<path d="M479.6,1213.3 V1246 M476.6,1213.3 H513.8 M476.6,1246 H564.9"/>
<path d="M396.3,1277.2 H474.5 L532.2,1236.8"/>
<circle cx="519.1" cy="1219.9" r="2.6"/><circle cx="564.9" cy="1219.9" r="2.6"/>
<circle cx="519.1" cy="1271.9" r="2.6"/><circle cx="564.9" cy="1271.9" r="2.6"/>
<circle cx="588.7" cy="1276.3" r="2.2"/><circle cx="588.7" cy="1293.6" r="2.2"/>
<path d="M556,1246 H574 M564.9,1237 V1255"/>
</g>
<g fill="#231f20">
<circle cx="519.1" cy="1246" r="2.4"/>
<circle cx="574.7" cy="1273.4" r="1.6"/><circle cx="574.7" cy="1284.7" r="1.6"/><circle cx="574.7" cy="1295.7" r="1.6"/>
<path d="M513.8,1182.7 l8,-2 v4 z M581.5,1182.7 l-8,-2 v4 z M513.8,1205.6 l-8,-2 v4 z M519.1,1205.6 l8,-2 v4 z M564.9,1205.6 l-8,-2 v4 z M479.6,1213.3 l-2,8 h4 z M479.6,1246 l-2,-8 h4 z"/>
</g>
<circle cx="564.9" cy="1246" r="14.1" fill="none" stroke="#29a9e0" stroke-width="1.6"/>
<g fill="#231f20" font-size="16">
<text x="545" y="1177.3" text-anchor="middle">97</text>
<text x="458" y="1200.5">8.5</text>
<text x="540.5" y="1202.9" text-anchor="middle">65</text>
<text transform="translate(471.5,1229.3) rotate(-90)" text-anchor="middle">45.5</text>
<text x="396.3" y="1271.9" xml:space="preserve">Ø5H7  6</text>
<text x="582.7" y="1264.5" fill="#29a9e0">B</text>
</g>
<!-- B view -->
<text x="235.6" y="1166.5" font-size="16" fill="#29a9e0">B View</text>
<circle cx="264.4" cy="1224.5" r="33.1" fill="#e6e7e8" stroke="#29a9e0" stroke-width="2"/>
<g stroke="#414042" fill="none">
<path d="M233.8,1213 H295.8 M235.6,1235.8 H295" stroke-width="1.3"/>
<path d="M211.9,1224.2 H252 M254,1224.2 H275.1" stroke-width="1.6"/>
<path d="M264.4,1213 V1230" stroke-width="0.9"/>
<circle cx="264.4" cy="1224.2" r="3.6" stroke-width="1"/>
<path d="M260.5,1228 V1272.6 M268.4,1228 V1272.6" stroke-width="0.9"/>
<path d="M245.3,1269.5 H260.5 M268.4,1269.5 H337.2" stroke-width="0.9"/>
<path d="M215.5,1208.7 V1240.3 M215.5,1208.7 H227" stroke-width="0.9"/>
</g>
<g fill="#231f20">
<path d="M260.5,1269.5 l-7,-2 v4 z M268.4,1269.5 l7,-2 v4 z M215.5,1224 l-2,-7 h4 z M215.5,1225 l-2,7 h4 z"/>
</g>
<g fill="#231f20" font-size="16">
<text x="215" y="1202">1</text>
<text x="286" y="1263">5</text>
<text x="310.4" y="1263">6 H7</text>
</g>
<!-- bottom panels -->
<g stroke="#414042" stroke-width="1.3" fill="none"><rect x="131.1" y="1423" width="1171.3" height="504"/><line x1="522" y1="1423" x2="522" y2="1927"/><line x1="912" y1="1423" x2="912" y2="1927"/></g>
<g fill="#231f20">
<text x="147.2" y="1451" font-size="21.5" textLength="84.4" stroke="#231f20" stroke-width="0.45">X 軸板金</text>
<text x="239.1" y="1450.2" font-size="16.5" fill="#808285" textLength="158" lengthAdjust="spacingAndGlyphs">Sheet Metal of X Axis</text>
<text x="147.2" y="1480.6" font-size="19" textLength="36.5" stroke="#231f20" stroke-width="0.45">材質</text>
<text x="190.1" y="1480.6" font-size="13.5" fill="#808285" textLength="47" lengthAdjust="spacingAndGlyphs">Material</text>
<text x="245.5" y="1480.6" font-size="19">:</text>
<text x="256.6" y="1480.6" font-size="19.5" textLength="71.2" lengthAdjust="spacingAndGlyphs">SUS304</text>
<text x="246" y="1500" font-size="10" fill="#6d6e71">:</text>
<text x="536.2" y="1454.2" font-size="21.5" textLength="84.3" stroke="#231f20" stroke-width="0.45">Y 軸板金</text>
<text x="629.5" y="1449.6" font-size="16.5" fill="#808285" textLength="157.5" lengthAdjust="spacingAndGlyphs">Sheet Metal of Y Axis</text>
<text x="536.2" y="1478.5" font-size="19" textLength="36.5" stroke="#231f20" stroke-width="0.45">材質</text>
<text x="579.5" y="1478.5" font-size="13.5" fill="#808285" textLength="48" lengthAdjust="spacingAndGlyphs">Material</text>
<text x="634" y="1478.5" font-size="19">:</text>
<text x="644.3" y="1478.5" font-size="19.5" textLength="70.3" lengthAdjust="spacingAndGlyphs">SUS304</text>
<text x="926.9" y="1450" font-size="21.5" textLength="84.8" stroke="#231f20" stroke-width="0.45">Z 軸板金</text>
<text x="1019.4" y="1450" font-size="16.5" fill="#808285" textLength="157.9" lengthAdjust="spacingAndGlyphs">Sheet Metal of Z Axis</text>
<text x="926.9" y="1479.3" font-size="19" textLength="36.5" stroke="#231f20" stroke-width="0.45">材質</text>
<text x="969.3" y="1479.3" font-size="13.5" fill="#808285" textLength="48" lengthAdjust="spacingAndGlyphs">Material</text>
<text x="1023.5" y="1479.3" font-size="19">:</text>
<text x="1033.6" y="1479.3" font-size="19.5" textLength="65.7" lengthAdjust="spacingAndGlyphs">AL6061</text>
</g>
<!-- X plate -->
<path d="M178,1581.7 H326 Q329.2,1581.7 329.2,1585 V1675.5 Q329.2,1679.7 325,1679.7 H260.7 V1685.8 H174.9 V1585 Q174.9,1581.7 178,1581.7 Z" fill="#e6e7e8" stroke="#231f20" stroke-width="1.6"/>
<g stroke="#231f20" stroke-width="0.9" fill="none">
<circle cx="285.7" cy="1601.1" r="3.3"/><circle cx="285.7" cy="1658.5" r="3.3"/>
<path d="M266.3,1601.1 H294 M285.7,1593 V1609 M266.3,1658.5 H294 M285.7,1650 V1666"/>
<path d="M309,1605.3 H377.1 M316.1,1599 V1611 M309,1630.2 H377.1 M316.1,1624 V1636 M309,1654.6 H377.1 M316.1,1648 V1660"/>
<path d="M374.3,1605.3 V1679.7 M260.7,1679.7 H377"/>
<path d="M329.2,1581.7 H410.3 M260.7,1685.8 H410.3 M408.1,1581.7 V1685.8"/>
<path d="M267.7,1601.1 V1679.7"/>
<path d="M212.3,1565.1 H299.5 L289,1597"/>
<path d="M334.1,1549 H418.6 M334.1,1549 L318,1602"/>
<path d="M174.9,1686 V1750.3 M285.7,1666 V1719.9 M316.1,1660 V1719.9 M329.2,1680 V1750.3 M374.3,1680 V1731.5 H357.7"/>
<path d="M174.9,1718.5 H316.1 M174.9,1748.4 H329.2"/>
</g>
<g fill="#231f20"><circle cx="316.1" cy="1605.3" r="1.8"/><circle cx="316.1" cy="1630.2" r="1.8"/><circle cx="316.1" cy="1654.6" r="1.8"/>
<path d="M174.9,1718.5 l8,-2 v4 z M285.7,1718.5 l-8,-2 v4 z M285.7,1718.5 l8,-2 v4 z M316.1,1718.5 l-8,-2 v4 z M174.9,1748.4 l8,-2 v4 z M329.2,1748.4 l-8,-2 v4 z M408.1,1581.7 l-2,8 h4 z M408.1,1685.8 l-2,-8 h4 z"/>
</g>
<g fill="#231f20" font-size="16">
<text x="211.4" y="1556.8" textLength="64.6" lengthAdjust="spacingAndGlyphs">2-M5-thr.</text>
<text x="333.3" y="1542.4" textLength="65.4" lengthAdjust="spacingAndGlyphs">3-M3-thr.</text>
<text x="227.5" y="1712.9" text-anchor="middle">72</text>
<text x="288.4" y="1712.9">20</text>
<text x="357.7" y="1726.8">4</text>
<text x="246.9" y="1744.8" text-anchor="middle">100</text>
<g text-anchor="middle">
<text transform="translate(262.5,1626) rotate(-90)">37</text>
<text transform="translate(262.5,1664.8) rotate(-90)">13.5</text>
<text transform="translate(371.8,1617.8) rotate(-90)">16</text>
<text transform="translate(371.8,1642.7) rotate(-90)">16</text>
<text transform="translate(371.8,1668) rotate(-90)">16</text>
<text transform="translate(405,1635.8) rotate(-90)">68</text>
</g>
</g>
<!-- X lower view -->
<path d="M203.9,1779.4 H357.7 V1783 H288.4 V1814 Q288.4,1818.2 284,1818.2 H208 Q203.9,1818.2 203.9,1814 Z" fill="#e6e7e8" stroke="#231f20" stroke-width="1.6"/>
<g stroke="#231f20" stroke-width="0.9" fill="none">
<circle cx="211.4" cy="1810.7" r="3.5"/><circle cx="241.9" cy="1810.7" r="3.5"/><circle cx="276" cy="1810.7" r="3.5"/>
<path d="M170.7,1810.7 H219 M232,1810.7 H250 M266,1810.7 H284 M211.4,1803 V1870.8 M241.9,1803 V1870.8 M276,1803 V1870.8"/>
<path d="M161,1779.4 H203.9 M161,1818.2 H203.9 M172.6,1800.2 V1870 M138.3,1869.4 H172.6"/>
<path d="M177.6,1868.9 H276"/>
<path d="M203.9,1818 V1897.1 M288.4,1818 V1897.1 M203.9,1895.8 H288.4"/>
<path d="M420.8,1879.1 H331.4 L266.3,1799.6"/>
</g>
<g fill="#231f20">
<path d="M203.9,1868.9 l-8,-2 v4 z M211.4,1868.9 l8,-2 v4 z M241.9,1868.9 l-8,-2 v4 z M241.9,1868.9 l8,-2 v4 z M276,1868.9 l-8,-2 v4 z M203.9,1895.8 l8,-2 v4 z M288.4,1895.8 l-8,-2 v4 z"/>
</g>
<g fill="#231f20" font-size="16">
<text transform="translate(159.5,1800.2) rotate(-90)" text-anchor="middle">25</text>
<text x="134.7" y="1865.3" textLength="25.8" lengthAdjust="spacingAndGlyphs">4.75</text>
<text x="180.4" y="1863.9">5</text>
<text x="213.1" y="1865.3">20</text>
<text x="245.5" y="1863.4">22</text>
<text x="241.3" y="1891.6" text-anchor="middle">55</text>
<text x="336.9" y="1871.7" textLength="76.2" lengthAdjust="spacingAndGlyphs">3-Ø5.5-thr.</text>
</g>
<!-- X side L -->
<path d="M389.5,1822.4 V1792 Q389.5,1783.6 398,1783.6 H494.8 V1786.9 H398 Q393.1,1786.9 393.1,1792 V1822.4 Z" fill="#414042" stroke="#231f20" stroke-width="1"/>
<g stroke="#231f20" stroke-width="0.9" fill="none">
<path d="M374.3,1783.6 H389.5 M374.3,1822.4 H389.5 M376.5,1783.6 V1822.4"/>
<path d="M389.5,1822 V1840 M494.8,1787 V1840 M389.5,1837.6 H494.8"/>
<path d="M494.8,1783.6 H516 M494.8,1786.9 H516 M514.2,1773.9 V1818.2 H500.3"/>
</g>
<g fill="#231f20">
<path d="M376.5,1783.6 l-2,8 h4 z M376.5,1822.4 l-2,-8 h4 z M389.5,1837.6 l8,-2 v4 z M494.8,1837.6 l-8,-2 v4 z"/>
</g>
<g fill="#231f20" font-size="16">
<text transform="translate(371.5,1804.3) rotate(-90)" text-anchor="middle">25</text>
<text x="438" y="1832" text-anchor="middle">68</text>
<text x="499.5" y="1812.7">2</text>
</g>
<!-- Y plate -->
<path d="M617.8,1544.7 H691.6 V1550.1 L772.7,1628.5 H791.6 V1686.6 H701.6 V1623.6 Z" fill="#e6e7e8" stroke="#231f20" stroke-width="1.6" stroke-linejoin="round"/>
<g stroke="#231f20" stroke-width="0.9" fill="none">
<path d="M563.8,1544.7 H617.8 M566.5,1544.7 V1686.6 M563.8,1686.6 H876.2"/>
<path d="M606,1544.7 V1623.6 H701.6"/>
<path d="M606,1533.4 H620.5 M606,1533.4 V1560 M606,1545.3 H617.8 M606,1549.3 H617.8"/>
<path d="M617.8,1544.7 V1796.2"/>
<path d="M691.6,1544.7 V1528.5 L703.8,1533.9 L708.6,1544.7 L706.5,1559.6"/>
<path d="M871.4,1571.2 H803.8 L762,1640"/>
<path d="M875.4,1605.5 H801 L784,1637"/>
<circle cx="760" cy="1643.4" r="1.8"/><circle cx="760" cy="1671.2" r="1.8"/>
<path d="M735,1643.4 H768 M760,1636 V1651 M735,1671.2 H768 M760,1664 V1679"/>
<path d="M737.6,1643.4 V1671.2"/>
<path d="M776,1639.3 H839 M782.7,1632 V1646 M776,1657.7 H839 M782.7,1651 V1664 M776,1675.8 H839 M782.7,1669 V1682"/>
<path d="M836.8,1639.3 V1720.5 H801"/>
<path d="M791.6,1628.5 H876 M874,1628.5 V1686.6"/>
<path d="M751.9,1661 V1715.7 H703.8"/>
<path d="M701.6,1686.6 V1767.8 M760,1679 V1740.8 M782.7,1682 V1740 M791.6,1686.6 V1796.2"/>
<path d="M701.6,1738.1 H782.7 M617.8,1766 H791.6 M617.8,1794.3 H791.6"/>
</g>
<g fill="#231f20">
<circle cx="760" cy="1643.4" r="2.4"/><circle cx="760" cy="1671.2" r="2.4"/>
<circle cx="782.7" cy="1639.3" r="1.6"/><circle cx="782.7" cy="1657.7" r="1.6"/><circle cx="782.7" cy="1675.8" r="1.6"/>
<path d="M566.5,1544.7 l-1.8,7 h3.6 z M566.5,1686.6 l-1.8,-7 h3.6 z M606,1544.7 l-1.8,7 h3.6 z M606,1623.6 l-1.8,-7 h3.6 z M874,1628.5 l-1.8,7 h3.6 z M874,1686.6 l-1.8,-7 h3.6 z"/>
<path d="M701.6,1738.1 l7,-1.8 v3.6 z M760,1738.1 l-7,-1.8 v3.6 z M760,1738.1 l7,-1.8 v3.6 z M782.7,1738.1 l-7,-1.8 v3.6 z M617.8,1766 l7,-1.8 v3.6 z M701.6,1766 l-7,-1.8 v3.6 z M701.6,1766 l7,-1.8 v3.6 z M791.6,1766 l-7,-1.8 v3.6 z M617.8,1794.3 l7,-1.8 v3.6 z M791.6,1794.3 l-7,-1.8 v3.6 z"/>
</g>
<g fill="#231f20" font-size="16">
<text transform="translate(560.8,1617.7) rotate(-90)" text-anchor="middle">127.5</text>
<text transform="translate(601.5,1588) rotate(-90)" text-anchor="middle">68.13</text>
<text x="608.6" y="1529">4</text>
<text transform="translate(715.5,1538) rotate(90)" text-anchor="middle">135°</text>
<text x="804.3" y="1565" textLength="65.7" lengthAdjust="spacingAndGlyphs">2-M5-thr.</text>
<text x="806" y="1599.3" textLength="65.9" lengthAdjust="spacingAndGlyphs">3-M3-thr.</text>
<text transform="translate(733.8,1656.9) rotate(-90)" text-anchor="middle">25</text>
<text transform="translate(833.8,1658) rotate(-90)" text-anchor="middle" textLength="32" lengthAdjust="spacingAndGlyphs">1616</text>
<text transform="translate(871.8,1658.2) rotate(-90)" text-anchor="middle">52</text>
<text x="703.8" y="1708.4" textLength="39.2" lengthAdjust="spacingAndGlyphs">13.25</text>
<text x="807.8" y="1716.5">10</text>
<text x="729.5" y="1735.4" text-anchor="middle">52</text>
<text x="761" y="1735.4">20</text>
<text x="661.9" y="1760.5" text-anchor="middle">73.5</text>
<text x="744.9" y="1762.4" text-anchor="middle">80</text>
<text x="707.8" y="1790.3" text-anchor="middle">153.5</text>
</g>
<!-- Y lower view -->
<path d="M618.6,1809.7 H792.4 V1813 H691.6 V1824 Q691.6,1828.1 687.5,1828.1 H622.7 Q618.6,1828.1 618.6,1824 Z" fill="#e6e7e8" stroke="#231f20" stroke-width="1.6"/>
<g stroke="#231f20" stroke-width="0.9" fill="none">
<circle cx="626.8" cy="1821.1" r="3.2"/><circle cx="683.5" cy="1821.1" r="3.2"/>
<path d="M603.8,1821.1 H638 M672,1821.1 H691 M626.8,1814 V1884 M683.5,1814 V1884"/>
<path d="M575.4,1809.7 H618.6 M575.4,1828.1 H618.6 M577.3,1809.7 V1828.1"/>
<path d="M586.2,1856.2 H606.5 V1811"/>
<path d="M587.6,1881.4 H683.5"/>
<path d="M618.6,1828 V1910 M691.6,1828 V1910 M618.6,1907.8 H691.6"/>
<path d="M810.5,1867.8 H728.1 L674,1811"/>
<path d="M817.3,1801.1 H829.5 M817.3,1801.1 V1828.1 M792.4,1809.7 H828.1 M792.4,1813 H828.1"/>
</g>
<g fill="#231f20">
<path d="M577.3,1809.7 l-1.8,7 h3.6 z M577.3,1828.1 l-1.8,-7 h3.6 z M618.6,1881.4 l-7,-1.8 v3.6 z M626.8,1881.4 l7,-1.8 v3.6 z M683.5,1881.4 l-7,-1.8 v3.6 z M618.6,1907.8 l7,-1.8 v3.6 z M691.6,1907.8 l-7,-1.8 v3.6 z"/>
</g>
<g fill="#231f20" font-size="16">
<text transform="translate(570.1,1819.2) rotate(-90)" text-anchor="middle">16</text>
<text x="588.1" y="1851.6">6</text>
<text x="588.1" y="1878.6">7.5</text>
<text x="653.8" y="1877.3" text-anchor="middle">50</text>
<text x="653" y="1904.3" text-anchor="middle">65</text>
<text x="729.5" y="1861.1" textLength="78.3" lengthAdjust="spacingAndGlyphs">2-Ø5.5-thr.</text>
<text x="823.2" y="1796.8">2</text>
</g>
<!-- Z plate -->
<rect x="1016.7" y="1641.6" width="183.3" height="77.8" rx="3" fill="#e6e7e8" stroke="#231f20" stroke-width="1.6"/>
<g stroke="#231f20" stroke-width="0.9" fill="none">
<circle cx="1047.9" cy="1649" r="6"/><circle cx="1047.9" cy="1649" r="3.3"/>
<circle cx="1098.8" cy="1649" r="6"/><circle cx="1098.8" cy="1649" r="3.3"/>
<circle cx="1191" cy="1649.8" r="3.4"/>
<circle cx="1047.9" cy="1712" r="6"/><circle cx="1047.9" cy="1712" r="3.3"/>
<circle cx="1098.8" cy="1712" r="6"/><circle cx="1098.8" cy="1712" r="3.3"/>
<circle cx="1191" cy="1710.6" r="3.4"/>
<path d="M1038,1649 H1058 M1047.9,1639 V1659 M1089,1649 H1109 M1098.8,1639 V1659 M1184,1649.8 H1198 M1191,1643 V1657"/>
<path d="M1038,1712 H1058 M1047.9,1702 V1722 M1089,1712 H1109 M1098.8,1702 V1722 M1184,1710.6 H1198 M1191,1704 V1718"/>
<path d="M1022,1658.6 H1036 M1028.7,1652 V1665 M1053,1658.6 H1067 M1059.6,1652 V1665 M1113,1658.6 H1127 M1119.8,1652 V1665 M1173,1658.6 H1187 M1180,1652 V1665"/>
<path d="M1022,1702.4 H1036 M1028.7,1696 V1709 M1053,1702.4 H1067 M1059.6,1696 V1709 M1113,1702.4 H1127 M1119.8,1696 V1709 M1173,1702.4 H1187 M1180,1696 V1709"/>
<path d="M950.2,1612.6 H1015.8 L1028.7,1657"/>
<path d="M1165,1630.7 H1054.2 L1047.9,1643"/>
<path d="M1277.2,1618.9 H1208.8 L1191,1647"/>
<path d="M945.5,1641.6 H1016.7 M980.3,1649 H1042 M980.3,1658.6 H1028 M947.4,1641.6 V1719.4 M981.6,1641.6 V1765.4 H953.7"/>
<path d="M980.3,1702.4 H1028 M980.3,1711.5 H1042 M945.5,1719.4 H1016.7"/>
<path d="M1180,1658.6 H1252.6 M1200,1719.4 H1252.6 M1251.2,1658.6 V1764 M1180,1702.4 H1252.6"/>
<path d="M1016.7,1719 V1791.4 M1028.7,1709 V1758.5 M1047.9,1722 V1758.5 M1059.6,1709 V1758.5 M1098.8,1722 V1758.5 M1119.8,1709 V1758.5 M1180,1709 V1758.5 M1191,1718 V1758.5 M1200,1723 V1791.4"/>
<path d="M992.6,1756.6 H1214.3 M1016.7,1788.6 H1200"/>
</g>
<g fill="#231f20">
<circle cx="1028.7" cy="1658.6" r="1.6"/><circle cx="1059.6" cy="1658.6" r="1.6"/><circle cx="1119.8" cy="1658.6" r="1.6"/><circle cx="1180" cy="1658.6" r="1.6"/>
<circle cx="1028.7" cy="1702.4" r="1.6"/><circle cx="1059.6" cy="1702.4" r="1.6"/><circle cx="1119.8" cy="1702.4" r="1.6"/><circle cx="1180" cy="1702.4" r="1.6"/>
<path d="M1016.7,1788.6 l7,-1.8 v3.6 z M1200,1788.6 l-7,-1.8 v3.6 z M947.4,1641.6 l-1.8,7 h3.6 z M947.4,1719.4 l-1.8,-7 h3.6 z M1251.2,1658.6 l-1.8,7 h3.6 z M1251.2,1702.4 l-1.8,-7 h3.6 z"/>
<path d="M1016.7,1756.6 l-7,-1.8 v3.6 z M1028.7,1756.6 l7,-1.8 v3.6 z M1059.6,1756.6 l-7,-1.8 v3.6 z M1098.8,1756.6 l7,-1.8 v3.6 z M1119.8,1756.6 l-7,-1.8 v3.6 z M1180,1756.6 l7,-1.8 v3.6 z M1200,1756.6 l7,-1.8 v3.6 z"/>
</g>
<g fill="#231f20" font-size="16">
<text x="950.2" y="1609.3" textLength="64.3" lengthAdjust="spacingAndGlyphs">8-M3-thr.</text>
<text x="1062.4" y="1605.2">4 -</text>
<path d="M1087,1594 V1603 H1105 V1594" stroke="#231f20" stroke-width="1.2" fill="none"/>
<text x="1109" y="1605.2">Ø10</text><text x="1146.5" y="1605.2">5</text>
<text x="1062.4" y="1624.4" textLength="62.9" lengthAdjust="spacingAndGlyphs">Ø5.5-thr.</text>
<text x="1209.3" y="1614.2" textLength="65.2" lengthAdjust="spacingAndGlyphs">2-M5-thr.</text>
<text transform="translate(942,1681.2) rotate(-90)" text-anchor="middle">65</text>
<text transform="translate(977.5,1655.8) rotate(-90)" text-anchor="middle">8</text>
<text transform="translate(977.5,1679.2) rotate(-90)" text-anchor="middle">36</text>
<text transform="translate(977.5,1706.5) rotate(-90)" text-anchor="middle">8</text>
<text transform="translate(1245.7,1681.9) rotate(-90)" text-anchor="middle">36</text>
<text transform="translate(1245.7,1744.8) rotate(-90)" text-anchor="middle">14.5</text>
<text x="953.7" y="1761.3">6.5</text>
<text x="992.6" y="1754.4">10</text>
<text x="1030.9" y="1754.4" textLength="13.7" lengthAdjust="spacingAndGlyphs">16</text>
<text x="1048.7" y="1754.4">9</text>
<text x="1068.7" y="1754.4">33</text>
<text x="1100.7" y="1754.4" textLength="15.6" lengthAdjust="spacingAndGlyphs">17</text>
<text x="1144.5" y="1754.4">50</text>
<text x="1203.9" y="1751.7">9</text>
<text x="1106.2" y="1785.9" text-anchor="middle">151</text>
<text transform="translate(998,1837.3) rotate(-90)" text-anchor="middle">12</text>
</g>
<!-- Z side -->
<rect x="1016.7" y="1828.3" width="183.3" height="14.2" fill="#e6e7e8" stroke="#231f20" stroke-width="2"/>
<g stroke="#231f20" stroke-width="0.9" fill="none">
<path d="M1043.2,1828.3 V1834.6 H1054.2 V1828.3 M1045.1,1834.6 V1842.5 M1052.2,1834.6 V1842.5"/>
<path d="M1094.1,1828.3 V1834.6 H1105.1 V1828.3 M1096,1834.6 V1842.5 M1103.1,1834.6 V1842.5"/>
<path d="M1008.4,1818.7 V1853 M1005,1828.3 H1016.7 M1005,1842.5 H1016.7"/>
</g>
<!-- side tab & page number -->
<path d="M0,1344 H56.8 Q66.8,1344 66.8,1354 V1458.7 Q66.8,1468.7 56.8,1468.7 H0 Z" fill="#87ac95"/>
<text x="48.2" y="1360.5" font-size="16.5" fill="#fff" stroke="#fff" stroke-width="0.45" text-anchor="middle">螺</text><text x="48.2" y="1377.8" font-size="16.5" fill="#fff" stroke="#fff" stroke-width="0.45" text-anchor="middle">桿</text><text x="48.2" y="1395.1" font-size="16.5" fill="#fff" stroke="#fff" stroke-width="0.45" text-anchor="middle">直</text><text x="48.2" y="1412.4" font-size="16.5" fill="#fff" stroke="#fff" stroke-width="0.45" text-anchor="middle">交</text><text x="48.2" y="1429.7" font-size="16.5" fill="#fff" stroke="#fff" stroke-width="0.45" text-anchor="middle">機</text><text x="48.2" y="1447.0" font-size="16.5" fill="#fff" stroke="#fff" stroke-width="0.45" text-anchor="middle">械</text><text x="48.2" y="1464.3" font-size="16.5" fill="#fff" stroke="#fff" stroke-width="0.45" text-anchor="middle">手</text>
<text transform="translate(23.6,1354.2) rotate(90)" font-size="17" fill="#fff" stroke="#fff" stroke-width="0.5" textLength="104.3" lengthAdjust="spacingAndGlyphs">XYTH/XYHC/XYHB</text>
<path d="M0,2008.5 H119 Q157.4,2008.5 157.4,2047 V2087 H0 Z" fill="#87ac95"/>
<text x="34" y="2055.1" font-size="45" font-weight="bold" font-style="italic" fill="#fff" textLength="82" lengthAdjust="spacingAndGlyphs">581</text>
</svg>
</body></html>
